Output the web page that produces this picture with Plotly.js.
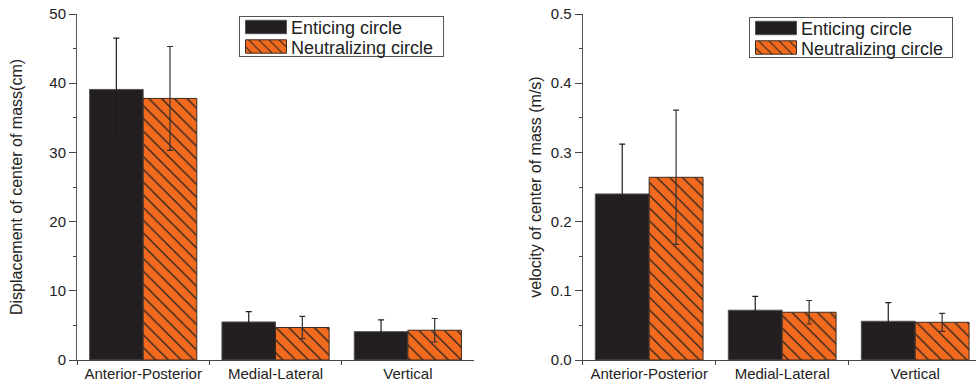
<!DOCTYPE html>
<html>
<head>
<meta charset="utf-8">
<script src="https://cdn.plot.ly/plotly-3.0.1.min.js"></script>
<style>html,body{margin:0;padding:0;background:#fff;}#chart{width:976px;height:386px;}</style>
</head>
<body>
<div id="chart"></div>
<script>
const categories = ["Anterior-Posterior", "Medial-Lateral", "Vertical"];
const seriesNames = ["Enticing circle", "Neutralizing circle"];

const dispEnticing = [39.1, 5.5, 4.1];
const dispEnticingErr = [7.4, 1.5, 1.7];
const dispNeutral = [37.8, 4.7, 4.3];
const dispNeutralErr = [7.5, 1.6, 1.7];

const velEnticing = [0.240, 0.072, 0.056];
const velEnticingErr = [0.072, 0.020, 0.027];
const velNeutral = [0.264, 0.069, 0.0545];
const velNeutralErr = [0.097, 0.017, 0.013];

const leftTitle = "Displacement of center of mass(cm)";
const rightTitle = "velocity of center of mass (m/s)";

const BLACK = "#231F20", ORANGE = "#F26A1E";
const FONT = "Liberation Sans, Arial, sans-serif";

function errBar(arr, col){ return {type:"data", array:arr, visible:true, color:col, thickness:1.2, width:3}; }
const blackMarker = {color:BLACK, line:{color:"#555", width:1}};
const orangeMarker = {color:ORANGE, line:{color:"#3a2a20", width:1},
  pattern:{shape:"\\", fgcolor:"#222", bgcolor:ORANGE, size:9, solidity:0.14}};

const traces = [
  {type:"bar", x:categories, y:dispEnticing, name:seriesNames[0], xaxis:"x", yaxis:"y", marker:blackMarker, error_y:errBar(dispEnticingErr, "#1f1c1d"), legend:"legend"},
  {type:"bar", x:categories, y:dispNeutral, name:seriesNames[1], xaxis:"x", yaxis:"y", marker:orangeMarker, error_y:errBar(dispNeutralErr, "#333"), legend:"legend"},
  {type:"bar", x:categories, y:velEnticing, name:seriesNames[0], xaxis:"x2", yaxis:"y2", marker:blackMarker, error_y:errBar(velEnticingErr, "#1f1c1d"), legend:"legend2"},
  {type:"bar", x:categories, y:velNeutral, name:seriesNames[1], xaxis:"x2", yaxis:"y2", marker:orangeMarker, error_y:errBar(velNeutralErr, "#333"), legend:"legend2"}
];

const xCommon = {type:"category", showline:true, linecolor:"#444", linewidth:1, ticks:"outside", tickson:"boundaries",
  ticklen:4, tickcolor:"#444", showgrid:false, zeroline:false, tickangle:0, automargin:false,
  tickfont:{family:FONT, size:15, color:"#222"}};
const yCommon = {showline:true, linecolor:"#555", linewidth:1, ticks:"outside", ticklen:7, tickcolor:"#444",
  showgrid:false, zeroline:false, automargin:false, tickfont:{family:FONT, size:15, color:"#222"},
  minor:{ticks:"outside", ticklen:3, tickcolor:"#444"}};

const legendCommon = {xref:"paper", yref:"paper", xanchor:"left", yanchor:"top",
  bordercolor:"#555", borderwidth:1, bgcolor:"#fff", font:{family:FONT, size:18, color:"#222"},
  itemwidth:41, tracegroupgap:0, traceorder:"normal"};

const layout = {
  width:976, height:386,
  margin:{l:0, r:0, t:14, b:26, autoexpand:false},
  paper_bgcolor:"#fff", plot_bgcolor:"#fff",
  barmode:"group", bargap:0.19, bargroupgap:0,
  showlegend:true,
  xaxis:Object.assign({}, xCommon, {domain:[0.0789, 0.4857], anchor:"y", range:[-0.5, 2.5]}),
  yaxis:Object.assign({}, yCommon, {domain:[0,1], anchor:"x", range:[0,50], dtick:10, minor:Object.assign({}, yCommon.minor, {dtick:5}),
    title:{text:leftTitle, font:{family:FONT, size:16, color:"#222"}, standoff:22}}),
  xaxis2:Object.assign({}, xCommon, {domain:[0.597, 1], anchor:"y2", range:[-0.5, 2.457]}),
  yaxis2:Object.assign({}, yCommon, {domain:[0,1], anchor:"x2", range:[0,0.5], dtick:0.1, tickformat:".1f", minor:Object.assign({}, yCommon.minor, {dtick:0.05}),
    title:{text:rightTitle, font:{family:FONT, size:16, color:"#222"}, standoff:5}}),
  legend:Object.assign({}, legendCommon, {x:239/976, y:1-2/346}),
  legend2:Object.assign({}, legendCommon, {x:749/976, y:1-3/346})
};

Plotly.newPlot("chart", traces, layout, {displayModeBar:false, staticPlot:true}).then(function(){
  const boxW = {legend:204, legend2:203};
  ["legend", "legend2"].forEach(function(id){
    const g = document.querySelector("g." + id);
    if(!g) return;
    const bg = g.querySelector("rect.bg");
    bg.setAttribute("height", 40);
    bg.setAttribute("width", boxW[id]);
    const top = bg.getBoundingClientRect().top;
    g.querySelectorAll("g.traces").forEach(function(t, i){
      const p = t.querySelector(".legendpoints path");
      if(p) p.setAttribute("d", "M-20,6.7V-6.7H21V6.7Z");
      const r = p.getBoundingClientRect();
      const cur = (r.top + r.bottom) / 2 - top;
      const target = 10.5 + 19.5 * i;
      const m = /translate\(\s*([-\d.e]+)[,\s]+([-\d.e]+)\s*\)/.exec(t.getAttribute("transform") || "translate(0,0)");
      const tx = m ? parseFloat(m[1]) : 0, ty = m ? parseFloat(m[2]) : 0;
      t.setAttribute("transform", "translate(" + tx + "," + (ty + target - cur) + ")");
    });
  });
});
</script>
</body>
</html>
